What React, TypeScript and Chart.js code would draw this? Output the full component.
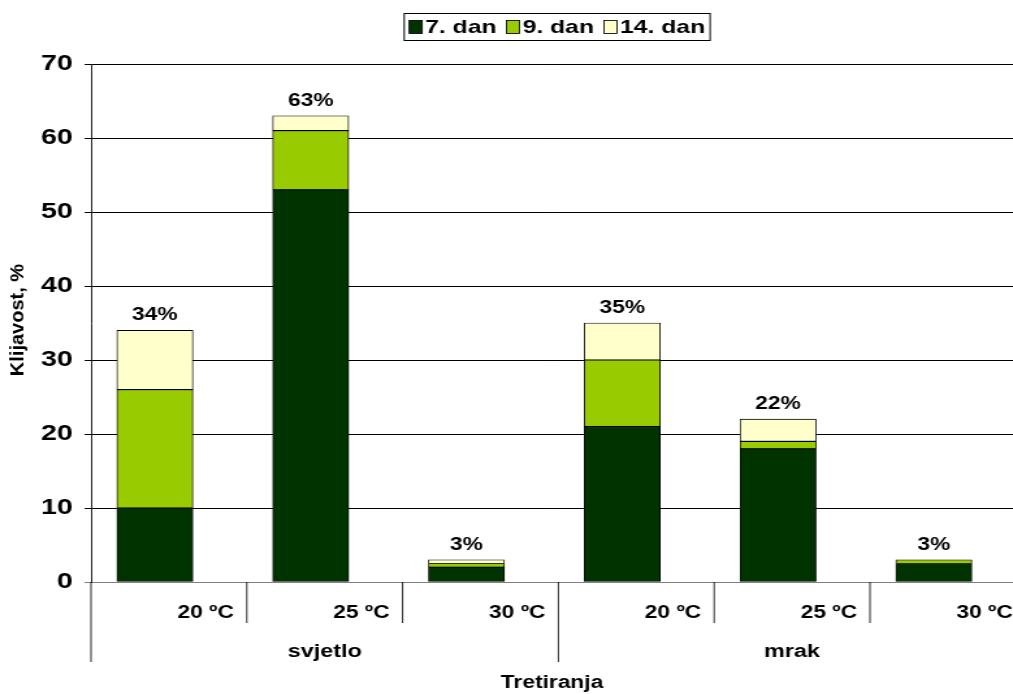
import React, { useEffect, useRef } from "react";
import { Chart, registerables } from "chart.js";

Chart.register(...registerables);

const temps = ["20 ºC", "25 ºC", "30 ºC", "20 ºC", "25 ºC", "30 ºC"];
const groups = ["svjetlo", "mrak"];
const seriesNames = ["7. dan", "9. dan", "14. dan"];
const day7 = [10, 53, 2, 21, 18, 2.5];
const day9 = [16, 8, 0.5, 9, 1, 0.5];
const day14 = [8, 2, 0.5, 5, 3, 0];
const totals = ["34%", "63%", "3%", "35%", "22%", "3%"];
const colors = ["#003300", "#99CC00", "#FFFFCC"];
const yTitle = "Klijavost, %";
const xTitle = "Tretiranja";

const FONT = "'Liberation Sans', Arial, sans-serif";
const SX = 1.3; // horizontal stretch of the canvas on screen
const CW = 779;
const CH = 694;

const overlay = {
  id: "overlay",
  afterDraw(chart: any) {
    const ctx = chart.ctx;
    const xs = chart.scales.x;
    const ys = chart.scales.y;
    const area = chart.chartArea;
    ctx.save();
    ctx.fillStyle = "#000";
    // totals above bars
    ctx.font = `bold 17.5px ${FONT}`;
    ctx.textAlign = "center";
    ctx.textBaseline = "middle";
    temps.forEach((_, i) => {
      const sum = day7[i] + day9[i] + day14[i];
      ctx.fillText(totals[i], xs.getPixelForValue(i), ys.getPixelForValue(sum) - 15);
    });
    // category separators
    const y0 = area.bottom;
    ctx.strokeStyle = "#000";
    ctx.lineWidth = 0.85;
    for (let k = 0; k <= temps.length; k++) {
      const px = xs.getPixelForValue(k - 0.41);
      if (px > chart.width) continue;
      const long = k % 3 === 0;
      ctx.beginPath();
      ctx.moveTo(px, y0);
      ctx.lineTo(px, y0 + (long ? 80 : 41));
      ctx.stroke();
    }
    // temperature labels
    ctx.font = `bold 17.5px ${FONT}`;
    ctx.textAlign = "right";
    temps.forEach((t, i) => {
      const px = xs.getPixelForValue(i + 0.59);
      ctx.fillText(t, px - 10, y0 + 31);
    });
    // group labels
    ctx.font = `bold 18px ${FONT}`;
    ctx.textAlign = "center";
    groups.forEach((g, gi) => {
      const a = xs.getPixelForValue(gi * 3 - 0.41);
      const b = xs.getPixelForValue(gi * 3 + 2.59);
      ctx.fillText(g, (a + b) / 2, y0 + 70);
    });
    // x title
    ctx.font = `bold 17.5px ${FONT}`;
    ctx.fillText(xTitle, (area.left + area.right) / 2, 683);
    // y title (not stretched)
    ctx.save();
    ctx.translate(18 / SX, 320);
    ctx.scale(1 / SX, 1);
    ctx.rotate(-Math.PI / 2);
    ctx.font = `bold 20px ${FONT}`;
    ctx.textAlign = "center";
    ctx.fillText(yTitle, 0, 0);
    ctx.restore();
    // legend
    ctx.font = `bold 19px ${FONT}`;
    ctx.textAlign = "left";
    const sw = 13 / SX, gapSw = 3 / SX, gapItem = 10 / SX, pad = 5 / SX;
    const widths = seriesNames.map((n) => ctx.measureText(n).width);
    let total = pad * 2;
    widths.forEach((w, i) => {
      total += sw + gapSw + w + (i < widths.length - 1 ? gapItem : 0);
    });
    const cx = 557 / SX;
    const top = 13, h = 27;
    let x = cx - total / 2;
    ctx.strokeStyle = "#000";
    ctx.lineWidth = 1;
    ctx.strokeRect(x, top + 0.5, total, h);
    x += pad;
    seriesNames.forEach((n, i) => {
      ctx.fillStyle = colors[i];
      ctx.fillRect(x, top + 7.5, sw, 13);
      ctx.strokeStyle = "#000";
      ctx.lineWidth = 0.85;
      ctx.strokeRect(x, top + 7.5, sw, 13);
      ctx.fillStyle = "#000";
      ctx.fillText(n, x + sw + gapSw, top + 14.5);
      x += sw + gapSw + widths[i] + gapItem;
    });
    ctx.restore();
  },
};

export default function App() {
  const ref = useRef<HTMLCanvasElement>(null);
  useEffect(() => {
    document.body.style.margin = "0";
    const mk = (label: string, vals: number[], color: string) => ({
      label,
      data: vals.map((v, i) => ({ x: i, y: v })),
      backgroundColor: color,
      borderColor: "#000",
      borderWidth: 0.9,
      borderSkipped: false,
      barThickness: 76 / SX,
    });
    const chart = new Chart(ref.current as HTMLCanvasElement, {
      type: "bar",
      data: {
        datasets: [
          mk(seriesNames[0], day7, colors[0]),
          mk(seriesNames[1], day9, colors[1]),
          mk(seriesNames[2], day14, colors[2]),
        ] as any,
      },
      options: {
        animation: false,
        responsive: false,
        devicePixelRatio: 1,
        layout: { padding: { top: 64, left: 0, right: 0, bottom: 0 } },
        plugins: { legend: { display: false }, tooltip: { enabled: false } },
        scales: {
          x: {
            type: "linear",
            stacked: true,
            offset: false,
            min: -0.41,
            max: 5.508,
            grid: { display: false },
            border: { display: false },
            ticks: { display: false },
            afterFit(scale: any) {
              scale.height = 112;
            },
          },
          y: {
            stacked: true,
            min: 0,
            max: 70,
            ticks: {
              stepSize: 10,
              color: "#000",
              padding: 9,
              font: { family: FONT, size: 22, weight: "bold" },
            },
            grid: {
              color: (c: any) => (c.tick && c.tick.value === 0 ? "#808080" : "#000"),
              tickLength: 5,
              lineWidth: 1,
            },
            border: { display: true, color: "#000", width: 0.9 },
            afterFit(scale: any) {
              scale.width = 91 / SX;
            },
          },
        },
      } as any,
      plugins: [overlay],
    });
    return () => chart.destroy();
  }, []);
  return (
    <div style={{ width: 1013, height: 694, background: "#fff", overflow: "hidden" }}>
      <canvas
        ref={ref}
        width={CW}
        height={CH}
        style={{ display: "block", width: "1013px", height: "694px" }}
      />
    </div>
  );
}
